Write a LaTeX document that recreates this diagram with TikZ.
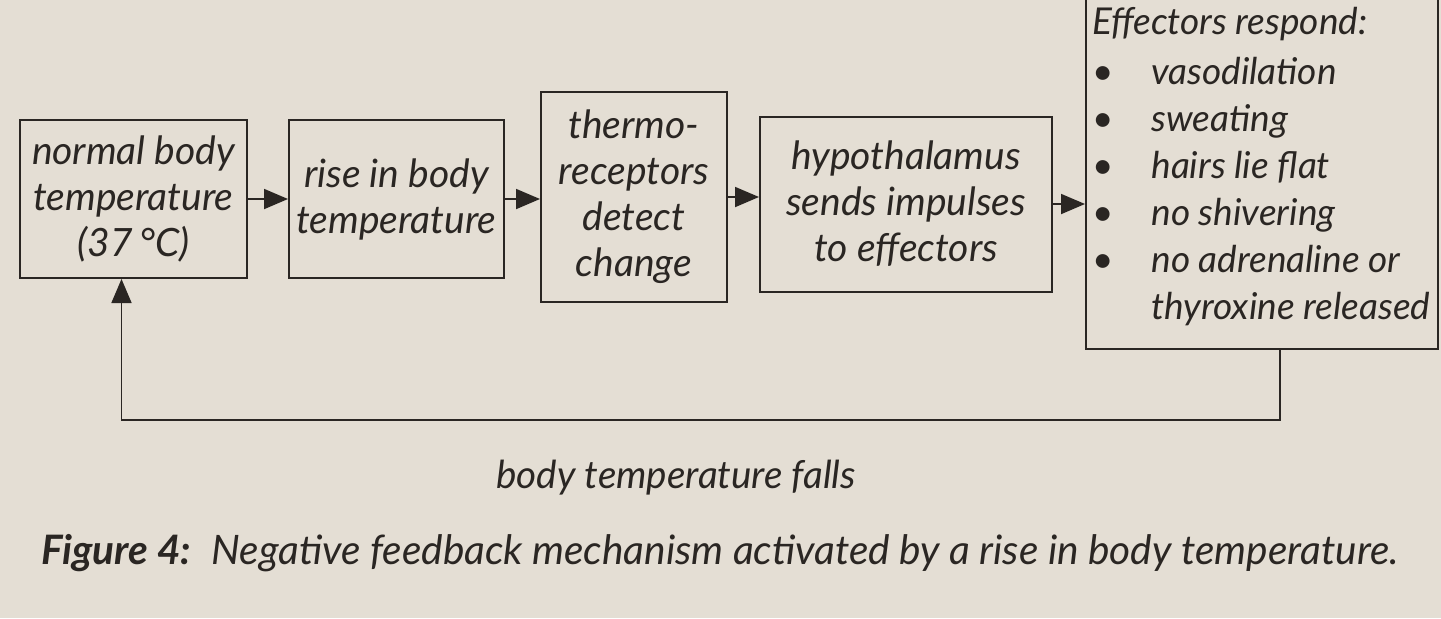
\documentclass[tikz,border=0pt]{standalone}
\usepackage{fontspec}
\setmainfont{Lato}
\usetikzlibrary{positioning,arrows.meta}
\definecolor{paper}{HTML}{E4DED4}
\definecolor{ink}{HTML}{2A2623}

\begin{document}
\begin{tikzpicture}[x=0.5pt,y=-0.5pt,
    every node/.style={text=ink},
    box/.style={draw=ink,line width=1pt,align=center,inner sep=0pt,
      font=\fontsize{19.5}{23}\selectfont\itshape},
    flow/.style={draw=ink,line width=0.9pt,-{Triangle[length=12pt,width=10pt]}}]
  \fill[paper] (0,0) rectangle (1441,618);
  \useasboundingbox (0,0) rectangle (1441,618);
  % the chain of boxes
  \node[box,minimum width=113.5pt,minimum height=79pt] (normal) at (133.5,199)
    {normal body\\temperature\\(37\,°C)};
  \node[box,minimum width=107.5pt,minimum height=79pt,right=20pt of normal] (rise)
    {rise in body\\temperature};
  \node[box,minimum width=93pt,minimum height=105pt,right=17.5pt of rise,yshift=1pt] (thermo)
    {thermo-\\receptors\\detect\\change};
  \node[box,minimum width=146pt,minimum height=87.5pt,right=15.5pt of thermo,yshift=-3.5pt] (hypo)
    {hypothalamus\\sends impulses\\to effectors};
  \node[box,right=16pt of hypo,yshift=20pt,
    font=\fontsize{18.5}{23.5}\selectfont\itshape] (effectors)
    {\parbox[c][185pt][t]{176pt}{\leftskip=3pt\vspace*{14pt}%
     Effectors respond:\\[1.5pt]
     \begin{tabular}[t]{@{}l@{\hspace{19pt}}l@{}}
       \textbullet & vasodilation\\
       \textbullet & sweating\\
       \textbullet & hairs lie flat\\
       \textbullet & no shivering\\
       \textbullet & no adrenaline or\\
                   & thyroxine released
     \end{tabular}}};
  %
  \draw[flow] (normal.east) -- (rise.west);
  \draw[flow] (rise.east) -- (rise.east -| thermo.west);
  \draw[flow] (thermo.east) -- (thermo.east -| hypo.west);
  \draw[flow] (hypo.east) -- (hypo.east -| effectors.west);
  \draw[flow] ([xshift=9pt]effectors.south) -- ++(0,70) -| ([xshift=-6pt]normal.south);
  % labels
  \node[font=\fontsize{19.3}{22}\selectfont\itshape] (falls) at (676,478) {body temperature falls};
  \node[font=\fontsize{20.3}{24}\selectfont\itshape] (caption) at (720,553)
    {\bfseries Figure 4:\mdseries\enspace Negative feedback mechanism activated by a rise in body temperature.};
\end{tikzpicture}
\end{document}
